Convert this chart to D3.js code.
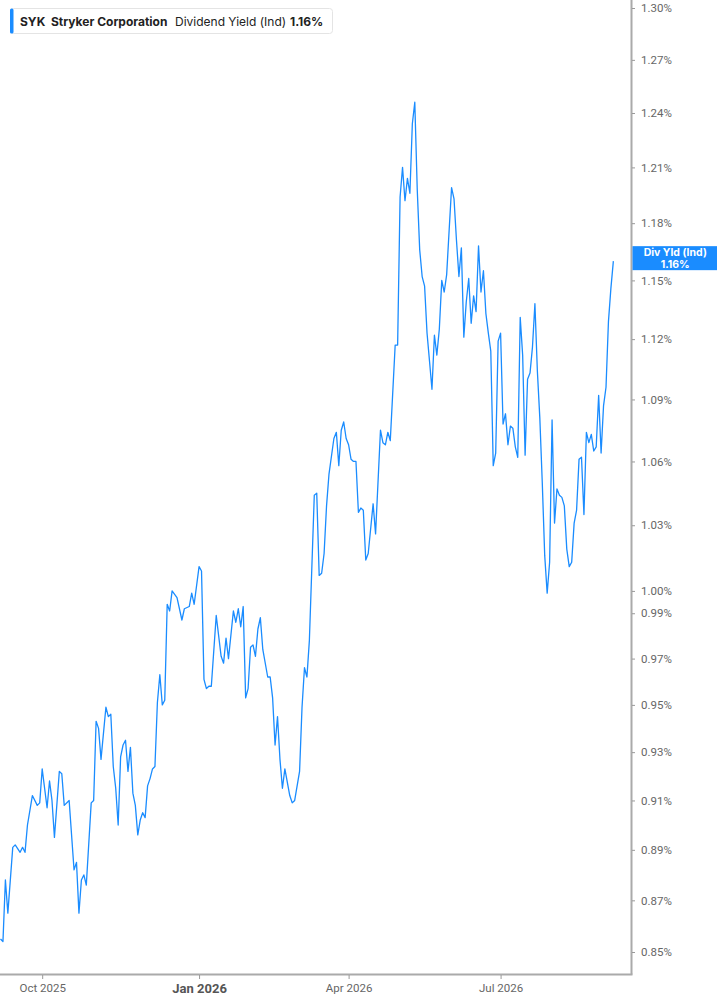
<!DOCTYPE html>
<html lang="en">
<head>
    <meta charset="UTF-8">
    <title>SYK Dividend Yield (Ind)</title>
    <script src="https://cdnjs.cloudflare.com/ajax/libs/d3/7.8.5/d3.min.js" charset="utf-8"></script>
    <style>
        body { margin: 0; background: #fff; }
        svg { display: block; font-family: Inter, "Noto Sans", sans-serif; }
        .axis text { fill: #666; font-size: 11.5px; font-family: Roboto, Inter, sans-serif; }
        .axis line { stroke: #999; }
    </style>
</head>
<body>
<svg width="717" height="1005"></svg>
<script>
    // trading session number (0 = first session shown) and the yield in percent
    var session = [
        0, 1, 2, 3, 5, 6, 8, 9, 10, 11, 13, 15, 16, 17, 19, 20, 21, 22, 24, 25,
        26, 28, 30, 31, 32, 33, 34, 35, 37, 38, 39, 40, 41, 43, 44, 45, 46, 47, 48, 49,
        50, 51, 52, 53, 54, 55, 56, 57, 58, 59, 60, 61, 62, 63, 64, 65, 66, 67, 68, 69,
        70, 72, 74, 75, 77, 78, 79, 81, 82, 83, 84, 85, 86, 88, 90, 91, 92, 93, 95, 96,
        97, 98, 99, 100, 101, 102, 103, 104, 105, 106, 107, 109, 110, 111, 112, 113, 114, 115, 116, 118,
        119, 120, 122, 123, 124, 125, 126, 128, 129, 130, 131, 132, 133, 134, 136, 137, 138, 139, 140, 141,
        142, 143, 144, 145, 146, 147, 148, 149, 150, 152, 153, 155, 156, 157, 158, 159, 161, 162, 163, 164,
        165, 166, 167, 168, 169, 170, 171, 172, 173, 174, 175, 176, 177, 178, 179, 180, 181, 182, 183, 184,
        185, 186, 187, 188, 189, 190, 191, 192, 193, 194, 195, 196, 197, 198, 199, 200, 201, 202, 203, 204,
        205, 206, 207, 208, 209, 210, 211, 212, 213, 214, 215, 216, 217, 218, 219, 220, 221, 222, 223, 224,
        225, 226, 227, 228, 229, 230, 231, 232, 233, 234, 235, 236, 237, 238, 239, 240, 241, 242, 243, 244,
        245, 246, 247, 248, 249, 250
    ];
    var yieldPct = [
        0.855, 0.854, 0.878, 0.865, 0.891, 0.892, 0.889, 0.891, 0.889, 0.900, 0.912, 0.908, 0.909, 0.923, 0.907, 0.918, 0.910, 0.895, 0.922, 0.921,
        0.908, 0.910, 0.882, 0.885, 0.865, 0.878, 0.880, 0.876, 0.909, 0.910, 0.943, 0.940, 0.927, 0.949, 0.945, 0.946, 0.924, 0.915, 0.900, 0.928,
        0.933, 0.935, 0.922, 0.932, 0.913, 0.908, 0.896, 0.902, 0.905, 0.903, 0.916, 0.919, 0.923, 0.924, 0.951, 0.963, 0.950, 0.952, 0.994, 0.991,
        1.000, 0.997, 0.987, 0.992, 0.993, 0.999, 0.994, 1.011, 1.009, 0.961, 0.957, 0.958, 0.958, 0.989, 0.971, 0.968, 0.979, 0.970, 0.991, 0.986,
        0.992, 0.984, 0.993, 0.953, 0.957, 0.975, 0.976, 0.971, 0.983, 0.988, 0.974, 0.962, 0.962, 0.953, 0.933, 0.945, 0.927, 0.915, 0.923, 0.912,
        0.909, 0.910, 0.922, 0.949, 0.966, 0.962, 0.978, 1.044, 1.045, 1.007, 1.008, 1.017, 1.039, 1.054, 1.071, 1.074, 1.058, 1.075, 1.079, 1.071,
        1.068, 1.061, 1.060, 1.060, 1.036, 1.038, 1.037, 1.014, 1.017, 1.040, 1.026, 1.075, 1.069, 1.068, 1.074, 1.070, 1.117, 1.117, 1.194, 1.210,
        1.192, 1.204, 1.196, 1.234, 1.246, 1.198, 1.166, 1.152, 1.147, 1.123, 1.109, 1.095, 1.122, 1.112, 1.125, 1.150, 1.144, 1.153, 1.176, 1.199,
        1.193, 1.171, 1.152, 1.167, 1.121, 1.139, 1.151, 1.128, 1.142, 1.134, 1.168, 1.144, 1.155, 1.133, 1.123, 1.114, 1.058, 1.064, 1.119, 1.123,
        1.078, 1.083, 1.068, 1.077, 1.076, 1.067, 1.062, 1.131, 1.112, 1.063, 1.100, 1.103, 1.116, 1.138, 1.104, 1.081, 1.050, 1.016, 0.999, 1.013,
        1.080, 1.031, 1.047, 1.044, 1.043, 1.039, 1.019, 1.011, 1.013, 1.031, 1.037, 1.061, 1.062, 1.035, 1.074, 1.069, 1.073, 1.065, 1.067, 1.092,
        1.064, 1.087, 1.096, 1.129, 1.146, 1.160
    ];

    var tickSession = [17, 81, 142, 204];
    var tickLabel = ["Oct 2025", "Jan 2026", "Apr 2026", "Jul 2026"];
    var yTicks = [0.85, 0.87, 0.89, 0.91, 0.93, 0.95, 0.97, 0.99, 1.00, 1.03, 1.06,
        1.09, 1.12, 1.15, 1.18, 1.21, 1.24, 1.27, 1.30];

    var lineColor = "#1a8cff";
    var axisX = 631.5, axisY = 974.5;

    var svg = d3.select("svg");

    var x = d3.scaleLinear().domain([0, 257.4]).range([0.5, axisX]);
    var y = d3.scaleLog().domain([0.85, 1.30]).range([952, 8]);

    var data = session.map(function (s, i) {
        return {s: s, v: yieldPct[i]};
    });

    // frame lines (right + bottom)
    svg.append("line")
            .attr("x1", axisX).attr("x2", axisX)
            .attr("y1", 0).attr("y2", axisY)
            .attr("stroke", "#aaa").attr("stroke-width", 2);
    svg.append("line")
            .attr("x1", 0).attr("x2", axisX + 1)
            .attr("y1", axisY).attr("y2", axisY)
            .attr("stroke", "#aaa").attr("stroke-width", 2);

    // right axis
    var yAxis = svg.append("g")
            .attr("class", "axis")
            .attr("transform", "translate(" + (axisX + 0.5) + ",0)")
            .call(d3.axisRight(y)
                    .tickValues(yTicks)
                    .tickSize(3)
                    .tickPadding(6)
                    .tickFormat(function (d) { return d.toFixed(2) + "%"; }));
    yAxis.select(".domain").remove();

    // bottom axis
    var xAxis = svg.append("g")
            .attr("class", "axis")
            .attr("transform", "translate(0," + (axisY + 0.5) + ")")
            .call(d3.axisBottom(x)
                    .tickValues(tickSession)
                    .tickSize(4)
                    .tickPadding(5)
                    .tickFormat(function (d, i) { return tickLabel[i]; }));
    xAxis.select(".domain").remove();
    xAxis.selectAll("text")
            .style("font-size", function (d, i) { return tickLabel[i].indexOf("Jan") === 0 ? "13px" : "11.5px"; })
            .style("font-weight", function (d, i) { return tickLabel[i].indexOf("Jan") === 0 ? "bold" : "normal"; })
            .style("fill", function (d, i) { return tickLabel[i].indexOf("Jan") === 0 ? "#555" : "#666"; });

    // the yield line
    var line = d3.line()
            .x(function (d) { return x(d.s); })
            .y(function (d) { return y(d.v); });

    svg.append("path")
            .datum(data)
            .attr("d", line)
            .attr("fill", "none")
            .attr("stroke", lineColor)
            .attr("stroke-width", 1.3)
            .attr("stroke-linejoin", "round");

    // last value box on the axis
    var last = yieldPct[yieldPct.length - 1];
    var boxMid = y(last) - 3;
    var tag = svg.append("g").attr("transform", "translate(" + (axisX + 1) + "," + (boxMid - 12) + ")");
    tag.append("rect")
            .attr("width", 717 - axisX)
            .attr("height", 24)
            .attr("fill", lineColor);
    tag.append("text")
            .attr("x", (717 - axisX) / 2).attr("y", 10)
            .attr("text-anchor", "middle")
            .attr("fill", "#fff")
            .style("font-size", "10.5px").style("font-weight", "bold")
            .text("Div Yld (Ind)");
    tag.append("text")
            .attr("x", (717 - axisX) / 2).attr("y", 21.5)
            .attr("text-anchor", "middle")
            .attr("fill", "#fff")
            .style("font-size", "10.5px").style("font-weight", "bold")
            .text(last.toFixed(2) + "%");

    // legend
    var legend = svg.append("g");
    legend.append("rect")
            .attr("x", 10.5).attr("y", 8.5)
            .attr("width", 322).attr("height", 25)
            .attr("rx", 3)
            .attr("fill", "#fff")
            .attr("stroke", "#e4e4e4");
    legend.append("rect")
            .attr("x", 10).attr("y", 8.5)
            .attr("width", 3.5).attr("height", 25)
            .attr("rx", 1.5)
            .attr("fill", lineColor);
    var legendParts = [
        {t: "SYK", x: 20, w: "bold"},
        {t: "Stryker Corporation", x: 51, w: "bold"},
        {t: "Dividend Yield (Ind)", x: 175, w: "normal"},
        {t: last.toFixed(2) + "%", x: 290, w: "bold"}
    ];
    legend.selectAll("text.lg")
            .data(legendParts)
            .enter()
            .append("text")
            .attr("class", "lg")
            .attr("x", function (d) { return d.x; })
            .attr("y", 25.5)
            .attr("fill", "#222")
            .style("font-size", "12px")
            .style("font-weight", function (d) { return d.w; })
            .text(function (d) { return d.t; });
</script>
</body>
</html>
